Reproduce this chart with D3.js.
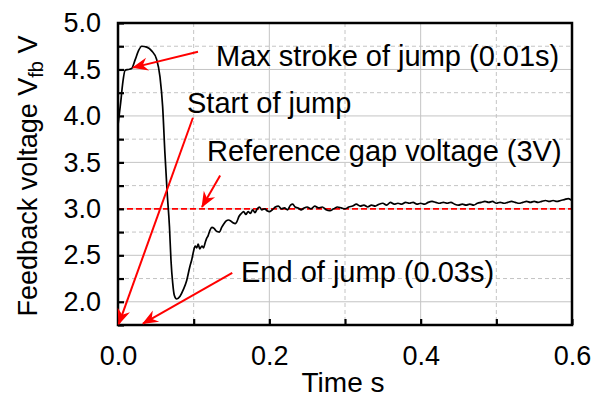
<!DOCTYPE html>
<html>
<head>
<meta charset="utf-8">
<script src="https://cdn.jsdelivr.net/npm/d3@7"></script>
<style>
  html, body { margin: 0; padding: 0; background: #fff; }
  svg { display: block; font-family: "Liberation Sans", Arial, sans-serif; }
</style>
</head>
<body>
<svg id="chart" width="592" height="400"></svg>
<script>
// ---- data ----
const timeS = [0, 0.0035, 0.0062, 0.0093, 0.0137, 0.018, 0.0225, 0.027, 0.0313, 0.038, 0.0445, 0.051, 0.0555, 0.059, 0.062, 0.065, 0.068, 0.070, 0.0723, 0.0744, 0.0775, 0.082, 0.0863, 0.0908, 0.095, 0.0974, 0.100, 0.102, 0.104, 0.106, 0.108, 0.111, 0.113, 0.115, 0.117, 0.119, 0.1216, 0.124, 0.127, 0.130, 0.134, 0.137, 0.140, 0.143, 0.146, 0.149, 0.152, 0.155, 0.157, 0.160, 0.163, 0.166, 0.169, 0.172, 0.175, 0.178, 0.181, 0.184, 0.187, 0.190, 0.194, 0.197, 0.200, 0.204, 0.208, 0.212, 0.216, 0.220, 0.224, 0.228, 0.231, 0.234, 0.238, 0.242, 0.246, 0.250, 0.255, 0.260, 0.265, 0.270, 0.275, 0.280, 0.285, 0.290, 0.295, 0.300, 0.305, 0.310, 0.315, 0.320, 0.325, 0.330, 0.335, 0.340, 0.345, 0.350, 0.355, 0.360, 0.365, 0.370, 0.375, 0.380, 0.385, 0.390, 0.395, 0.400, 0.405, 0.410, 0.415, 0.420, 0.425, 0.430, 0.435, 0.440, 0.445, 0.450, 0.455, 0.460, 0.465, 0.470, 0.475, 0.480, 0.485, 0.490, 0.495, 0.500, 0.505, 0.510, 0.515, 0.520, 0.525, 0.530, 0.535, 0.540, 0.545, 0.550, 0.555, 0.560, 0.565, 0.570, 0.575, 0.580, 0.585, 0.590, 0.595, 0.600];
const feedbackV = [3.90, 4.14, 4.35, 4.49, 4.50, 4.51, 4.60, 4.70, 4.75, 4.74, 4.70, 4.61, 4.42, 4.10, 3.60, 3.17, 2.81, 2.45, 2.20, 2.07, 2.03, 2.06, 2.13, 2.23, 2.38, 2.45, 2.55, 2.60, 2.58, 2.62, 2.57, 2.60, 2.58, 2.63, 2.68, 2.71, 2.77, 2.80, 2.79, 2.76, 2.75, 2.80, 2.84, 2.87, 2.88, 2.87, 2.85, 2.84, 2.86, 2.92, 2.95, 2.97, 2.94, 2.97, 2.95, 2.99, 2.96, 3.00, 3.02, 2.99, 3.00, 2.98, 2.97, 2.99, 3.02, 3.03, 3.00, 3.01, 2.99, 3.04, 3.05, 3.02, 3.01, 2.99, 3.01, 3.02, 3.00, 3.03, 3.01, 3.02, 2.99, 2.98, 3.00, 3.02, 3.01, 3.00, 3.02, 3.03, 3.05, 3.03, 3.04, 3.02, 3.04, 3.03, 3.05, 3.06, 3.04, 3.07, 3.05, 3.06, 3.05, 3.07, 3.06, 3.07, 3.05, 3.06, 3.05, 3.07, 3.08, 3.07, 3.06, 3.07, 3.06, 3.07, 3.05, 3.04, 3.05, 3.04, 3.05, 3.04, 3.06, 3.07, 3.08, 3.07, 3.08, 3.06, 3.07, 3.06, 3.07, 3.08, 3.07, 3.06, 3.07, 3.08, 3.07, 3.08, 3.07, 3.08, 3.09, 3.08, 3.09, 3.08, 3.09, 3.10, 3.11, 3.09];
const referenceV = 3.0;
const xTicks = [0, 0.1, 0.2, 0.3, 0.4, 0.5, 0.6];
const xTickLabels = ["0.0", "", "0.2", "", "0.4", "", "0.6"];
const yTicks = [1.75, 2.0, 2.25, 2.5, 2.75, 3.0, 3.25, 3.5, 3.75, 4.0, 4.25, 4.5, 4.75, 5.0];
const yTickLabels = ["", "2.0", "", "2.5", "", "3.0", "", "3.5", "", "4.0", "", "4.5", "", "5.0"];
// annotations: text, arrow tail (t, v), arrow tip (t, v), text anchor (t, v)
const annoText = ["Max stroke of jump (0.01s)", "Start of jump", "Reference gap voltage (3V)", "End of jump (0.03s)"];
const annoTail = [[0.1057, 4.69], [0.099, 3.98], [0.135, 3.36], [0.151, 2.31]];
const annoTip  = [[0.0198, 4.52], [0.001, 1.76], [0.111, 3.02], [0.033, 1.765]];
const annoTextPos = [[0.1295, 4.54], [0.0912, 4.035], [0.1176, 3.515], [0.1626, 2.218]];

// ---- layout ----
const L = 118, R = 572, T = 23, B = 325;
const svg = d3.select("#chart");
const x = d3.scaleLinear().domain([0, 0.6]).range([L, R]);
const y = d3.scaleLinear().domain([1.75, 5.0]).range([B, T]);

const isMajorY = (v) => Math.abs(v * 2 - Math.round(v * 2)) < 1e-6;
const isMajorX = (v) => Math.abs(v * 5 - Math.round(v * 5)) < 1e-6;

// grid
const grid = svg.append("g");
grid.selectAll("line.gy").data(yTicks.filter(v => v > 1.75 && v < 5.0)).join("line")
  .attr("x1", L).attr("x2", R)
  .attr("y1", d => y(d)).attr("y2", d => y(d))
  .attr("stroke", "#c4c4c4").attr("stroke-width", 1)
  .attr("stroke-dasharray", d => isMajorY(d) ? null : "4,3");
grid.selectAll("line.gx").data(xTicks.filter(v => v > 0 && v < 0.6)).join("line")
  .attr("y1", T).attr("y2", B)
  .attr("x1", d => x(d)).attr("x2", d => x(d))
  .attr("stroke", "#c4c4c4").attr("stroke-width", 1)
  .attr("stroke-dasharray", d => isMajorX(d) ? null : "4,3");

// reference line
svg.append("line")
  .attr("x1", x(0)).attr("x2", x(0.6))
  .attr("y1", y(referenceV)).attr("y2", y(referenceV))
  .attr("stroke", "#ff0000").attr("stroke-width", 1.6)
  .attr("stroke-dasharray", "6,3");

// curve
const pts = timeS.map((t, i) => [t, feedbackV[i]]);
svg.append("path")
  .datum(pts)
  .attr("fill", "none").attr("stroke", "#000").attr("stroke-width", 1.7)
  .attr("stroke-linejoin", "round")
  .attr("d", d3.line().x(d => x(d[0])).y(d => y(d[1])).curve(d3.curveMonotoneX));

// axes
const yAxis = d3.axisLeft(y).tickValues(yTicks)
  .tickSizeInner(-6).tickSizeOuter(0).tickPadding(17)
  .tickFormat((d, i) => yTickLabels[i]);
const gy = svg.append("g").attr("transform", `translate(${L},0)`).call(yAxis);
const xAxis = d3.axisBottom(x).tickValues(xTicks)
  .tickSizeInner(-6).tickSizeOuter(0).tickPadding(21)
  .tickFormat((d, i) => xTickLabels[i]);
const gx = svg.append("g").attr("transform", `translate(0,${B})`).call(xAxis);
[gx, gy].forEach(g => {
  g.select(".domain").remove();
  g.selectAll(".tick line").attr("stroke", "#000").attr("stroke-width", 2.2);
  g.selectAll(".tick text").attr("fill", "#000").style("font-size", "27px")
    .style("font-family", '"Liberation Sans", Arial, sans-serif');
});

// frame
svg.append("rect").attr("x", L).attr("y", T).attr("width", R - L).attr("height", B - T)
  .attr("fill", "none").attr("stroke", "#000").attr("stroke-width", 2.5);

// axis titles
svg.append("text").attr("x", (L + R) / 2 - 2).attr("y", 392)
  .attr("text-anchor", "middle").style("font-size", "28px").text("Time s");
const yt = svg.append("text")
  .attr("transform", `translate(37,${(T + B) / 2 + 2}) rotate(-90)`)
  .attr("text-anchor", "middle").style("font-size", "27px");
yt.append("tspan").text("Feedback voltage V");
yt.append("tspan").attr("dy", 6).style("font-size", "20px").text("fb");
yt.append("tspan").attr("dy", -6).text(" V");

// annotations
const defs = svg.append("defs");
defs.append("marker").attr("id", "arrow")
  .attr("markerUnits", "userSpaceOnUse")
  .attr("viewBox", "-16 -8 18 16").attr("refX", 0).attr("refY", 0)
  .attr("markerWidth", 18).attr("markerHeight", 16).attr("orient", "auto")
  .append("path").attr("d", "M1,0 L-15,-6.5 L-10,0 L-15,6.5 Z").attr("fill", "#ff0000");

annoText.forEach((txt, i) => {
  svg.append("line")
    .attr("x1", x(annoTail[i][0])).attr("y1", y(annoTail[i][1]))
    .attr("x2", x(annoTip[i][0])).attr("y2", y(annoTip[i][1]))
    .attr("stroke", "#ff0000").attr("stroke-width", 2)
    .attr("marker-end", "url(#arrow)");
  svg.append("text")
    .attr("x", x(annoTextPos[i][0])).attr("y", y(annoTextPos[i][1]))
    .style("font-size", "29px").attr("fill", "#000").text(txt);
});
</script>
</body>
</html>
